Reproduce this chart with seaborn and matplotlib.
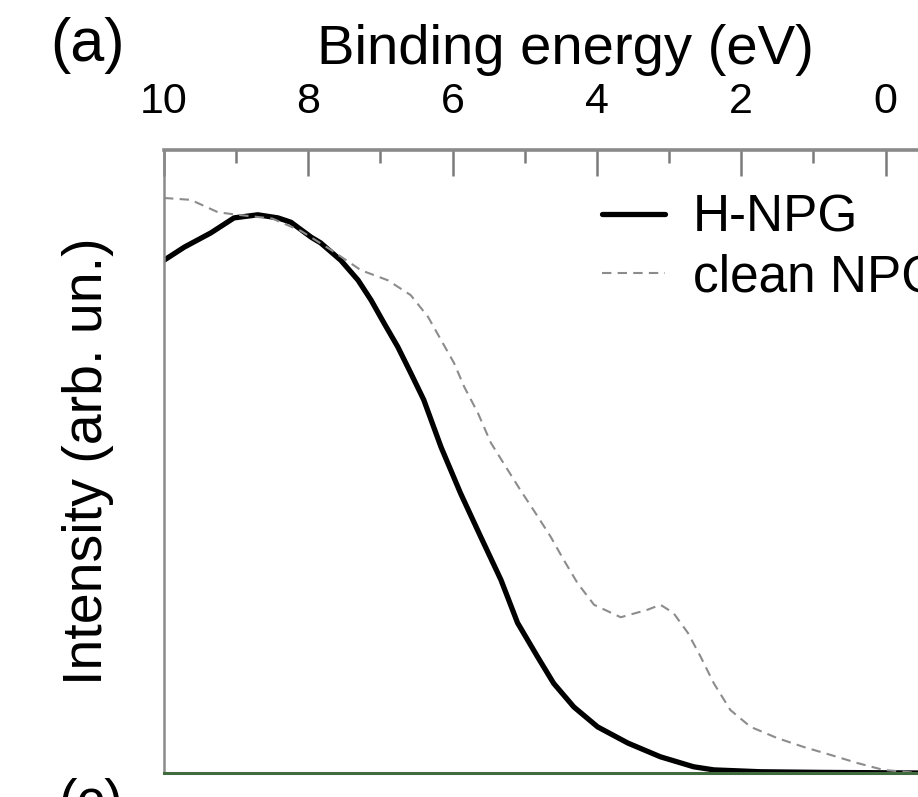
import numpy as np
import pandas as pd
import matplotlib
matplotlib.use("Agg")
import matplotlib.pyplot as plt
import seaborn as sns
from matplotlib.ticker import MultipleLocator
from matplotlib.lines import Line2D

# ---- data ----
energy_h = [10.0, 9.72, 9.35, 9.03, 8.70, 8.42, 8.24, 7.96, 7.83, 7.55, 7.31, 7.13,
            6.95, 6.76, 6.58, 6.40, 6.16, 5.89, 5.61, 5.33, 5.10, 4.82, 4.60, 4.32,
            3.99, 3.57, 3.12, 2.66, 2.38, 1.73, 0.90, -0.45]
intensity_h = [0.823, 0.844, 0.867, 0.891, 0.896, 0.891, 0.884, 0.860, 0.851, 0.823,
               0.791, 0.759, 0.722, 0.684, 0.642, 0.599, 0.523, 0.449, 0.379, 0.310,
               0.241, 0.186, 0.144, 0.106, 0.074, 0.048, 0.026, 0.010, 0.005, 0.002,
               0.001, 0.0]

energy_c = [10.0, 9.63, 9.25, 8.98, 8.50, 8.10, 7.69, 7.27, 6.90, 6.58, 6.34, 6.16,
            5.98, 5.84, 5.65, 5.47, 5.26, 5.06, 4.85, 4.64, 4.46, 4.27, 4.04, 3.67,
            3.30, 3.12, 2.94, 2.74, 2.56, 2.38, 2.15, 1.87, 1.50, 1.14, 0.76, 0.39,
            0.03, -0.45]
intensity_c = [0.923, 0.920, 0.900, 0.896, 0.890, 0.870, 0.840, 0.807, 0.791, 0.767,
               0.732, 0.695, 0.658, 0.620, 0.578, 0.530, 0.491, 0.454, 0.417, 0.379,
               0.342, 0.305, 0.270, 0.250, 0.262, 0.270, 0.257, 0.225, 0.186, 0.144,
               0.101, 0.074, 0.056, 0.042, 0.029, 0.016, 0.005, 0.0]

series_labels = ["H-NPG", "clean NPG"]
xticks = [10, 8, 6, 4, 2, 0]

df = pd.concat([
    pd.DataFrame({"E": energy_h, "I": intensity_h, "s": series_labels[0]}),
    pd.DataFrame({"E": energy_c, "I": intensity_c, "s": series_labels[1]}),
])

sns.set_style("white")
plt.rcParams["font.family"] = ["Liberation Sans", "DejaVu Sans"]
plt.rcParams["text.color"] = "black"
plt.rcParams["axes.labelcolor"] = "black"
plt.rcParams["xtick.color"] = "black"

fig = plt.figure(figsize=(9.18, 7.97), dpi=100)
ax = fig.add_axes([164 / 918, 1 - 773 / 797, 1 - 164 / 918, (773 - 150) / 797])

sns.lineplot(data=df, x="E", y="I", hue="s", style="s",
             palette={"H-NPG": "black", "clean NPG": "#8c8c8c"},
             dashes={"H-NPG": "", "clean NPG": (4.5, 3)},
             sort=False, estimator=None, ax=ax, legend=False)
lines = ax.get_lines()
lines[0].set_linewidth(3.8)
lines[0].set_solid_joinstyle("round")
lines[1].set_linewidth(1.5)

ax.set_xlim(10, -0.45)
ax.set_ylim(0, 1)

ax.xaxis.set_ticks_position("top")
ax.xaxis.set_label_position("top")
ax.set_xticks(xticks)
ax.set_xticklabels([str(t) for t in xticks])
ax.xaxis.set_minor_locator(MultipleLocator(1))
ax.tick_params(axis="x", which="major", direction="in", length=19, width=1.8,
               color="#7a7a7a", labelcolor="black", pad=20, labelsize=31,
               top=True, bottom=False)
ax.tick_params(axis="x", which="minor", direction="in", length=9, width=1.8,
               color="#7a7a7a", top=True, bottom=False)
ax.set_yticks([])

ax.set_xlabel("Binding energy (eV)", fontsize=40.5, labelpad=13, color="black")
ax.xaxis.label.set_x((565 - 164) / 754)
ax.set_ylabel("Intensity (arb. un.)", fontsize=40, labelpad=36, color="black")

for side in ["top", "left"]:
    ax.spines[side].set_color("#8a8a8a")
ax.spines["top"].set_linewidth(2.6)
ax.spines["left"].set_linewidth(1.8)
ax.spines["bottom"].set_color("#3f6b3f")
ax.spines["bottom"].set_linewidth(2.2)
ax.spines["right"].set_visible(False)

handles = [Line2D([], [], color="black", lw=3.8),
           Line2D([], [], color="#8c8c8c", lw=1.5, dashes=(4.5, 3))]
leg = ax.legend(handles, series_labels, loc="upper left",
                bbox_to_anchor=(602 / 918, 1 - 194 / 797), bbox_transform=fig.transFigure,
                frameon=False, fontsize=37, borderpad=0, borderaxespad=0,
                handlelength=1.22, handletextpad=0.55, labelspacing=0.2)
for t in leg.get_texts():
    t.set_color("black")

fig.text(50 / 918, 1 - 46 / 797, "(a)", fontsize=44, va="center", ha="left", color="black")
fig.text(58 / 918, 1 - 778 / 797, "(c)", fontsize=40, va="top", ha="left", color="black")

fig.savefig("out.png", dpi=100)
